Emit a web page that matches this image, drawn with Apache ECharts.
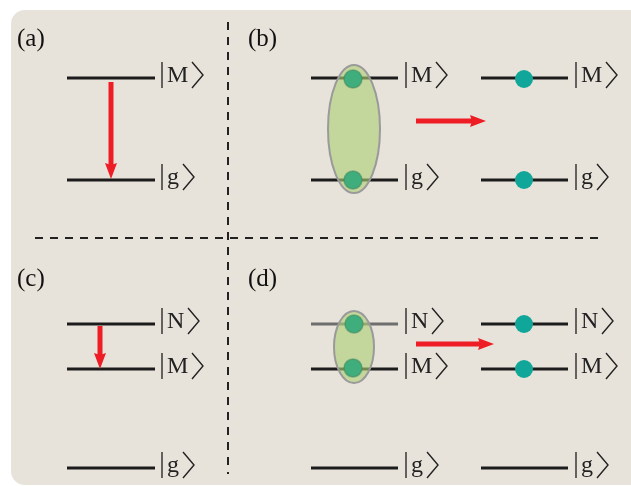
<!DOCTYPE html>
<html><head><meta charset="utf-8">
<script src="https://cdn.jsdelivr.net/npm/echarts@6/dist/echarts.min.js"></script>
<style>html,body{margin:0;padding:0;background:#fff}#c{width:631px;height:486px}</style>
</head><body><div id="c"></div>
<script>
// energy levels: [xStart, xEnd, y, tone]  (tone 0 = black, 1 = grey)
const levels = [
  [67,155,78,0],[67,155,180,0],
  [311,398,78,0],[311,398,180,0],
  [481,568,78,0],[481,568,180,0],
  [67,155,324,0],[67,155,369,0],[67,155,468,0],
  [311,398,324,1],[311,398,369,0],[311,398,468,0],
  [481,568,324,0],[481,568,369,0],[481,568,468,0]
];
// ket labels: [x of the bar, level y, state]
const kets = [
  [162,78,'M'],[162,180,'g'],
  [406,78,'M'],[406,180,'g'],
  [576,78,'M'],[576,180,'g'],
  [162,324,'N'],[162,369,'M'],[162,468,'g'],
  [406,324,'N'],[406,369,'M'],[406,468,'g'],
  [576,324,'N'],[576,369,'M'],[576,468,'g']
];
// entangled atoms (inside ellipse) and separate atoms
const entangledDots = [[353,79],[353,180],[354,324],[353,368]];
const freeDots = [[524,79],[524,180],[524,324],[524,369]];
// ellipses: [cx, cy, rx, ry]
const ellipses = [[354,129,26,64],[354,347,20,36]];
// arrows: [x1, y1, x2, y2]
const arrows = [[111,82,111,179],[416,121,486,121],[100,326,100,369],[416,344,494,344]];
// dashed separators: [x1, y1, x2, y2]
const separators = [[228,22,228,474],[35,238,600,238]];
// panel labels: [text, x, y]
const panelLabels = [['(a)',17,39],['(b)',248,39],['(c)',17,279],['(d)',248,279]];

const chart = echarts.init(document.getElementById('c'), null, {renderer:'canvas'});
const SERIF = '"Liberation Serif","Times New Roman",serif';
const bracketOffset = {M:30, g:21, N:26};

function seg(arr, fn){ return {type:'custom', coordinateSystem:'cartesian2d', data: arr.map((d,i)=>[i,0]), renderItem:(p,api)=>fn(arr[p.dataIndex],api), silent:true}; }

const option = {
  animation:false,
  backgroundColor:'#ffffff',
  graphic:[{type:'rect', shape:{x:11,y:10,width:640,height:475,r:14}, style:{fill:'#e8e3da'}, z:-10}],
  grid:{left:0,right:0,top:0,bottom:0},
  xAxis:{type:'value',min:0,max:631,show:false},
  yAxis:{type:'value',min:0,max:486,inverse:true,show:false},
  series:[
    seg(separators,(d,api)=>{const a=api.coord([d[0],d[1]]),b=api.coord([d[2],d[3]]);
      return {type:'line',shape:{x1:a[0],y1:a[1],x2:b[0],y2:b[1]},style:{stroke:'#222',lineWidth:2,lineDash:[8,7]}};}),
    seg(levels,(d,api)=>{const a=api.coord([d[0],d[2]]),b=api.coord([d[1],d[2]]);
      return {type:'line',shape:{x1:a[0],y1:a[1],x2:b[0],y2:b[1]},style:{stroke:d[3]?'#6e6e6e':'#1c1c1c',lineWidth:3.2}};}),
    seg(ellipses,(d,api)=>{const c=api.coord([d[0],d[1]]);const r=api.size([d[2],d[3]]);
      return {type:'ellipse',shape:{cx:c[0],cy:c[1],rx:r[0],ry:r[1]},style:{fill:'rgba(172,206,118,0.62)',stroke:'#9a9a9a',lineWidth:2}};}),
    seg(entangledDots,(d,api)=>{const c=api.coord(d);
      return {type:'circle',shape:{cx:c[0],cy:c[1],r:9},style:{fill:'#3fae7c',stroke:'rgba(60,130,90,0.5)',lineWidth:1.5}};}),
    seg(freeDots,(d,api)=>{const c=api.coord(d);
      return {type:'circle',shape:{cx:c[0],cy:c[1],r:9},style:{fill:'#10a79a'}};}),
    seg(arrows,(d,api)=>{const a=api.coord([d[0],d[1]]),b=api.coord([d[2],d[3]]);
      const dx=b[0]-a[0],dy=b[1]-a[1],L=Math.hypot(dx,dy),ux=dx/L,uy=dy/L,hl=16,hw=6;
      const bx=b[0]-ux*hl,by=b[1]-uy*hl;
      return {type:'group',children:[
        {type:'line',shape:{x1:a[0],y1:a[1],x2:bx+ux*2,y2:by+uy*2},style:{stroke:'#ee1c25',lineWidth:5}},
        {type:'polygon',shape:{points:[[b[0],b[1]],[bx-uy*hw,by+ux*hw],[bx+ux*2,by+uy*2],[bx+uy*hw,by-ux*hw]]},style:{fill:'#ee1c25'}}
      ]};}),
    seg(kets,(d,api)=>{const c=api.coord([d[0],d[1]]);const bo=bracketOffset[d[2]];
      return {type:'group',children:[
        {type:'line',shape:{x1:c[0],y1:c[1]-16,x2:c[0],y2:c[1]+10},style:{stroke:'#2a2a2a',lineWidth:1.4}},
        {type:'text',x:c[0]+5,y:c[1]-2,style:{text:d[2],font:'24px '+SERIF,fill:'#222',verticalAlign:'middle',align:'left'}},
        {type:'polyline',shape:{points:[[c[0]+bo,c[1]-16],[c[0]+bo+11,c[1]-3],[c[0]+bo,c[1]+10]]},style:{stroke:'#222',lineWidth:1.4,fill:null}}
      ]};}),
    seg(panelLabels,(d,api)=>{const c=api.coord([d[1],d[2]]);
      return {type:'text',x:c[0],y:c[1],style:{text:d[0],font:'25px '+SERIF,fill:'#111',verticalAlign:'middle',align:'left'}};})
  ]
};
chart.setOption(option);
</script></body></html>
